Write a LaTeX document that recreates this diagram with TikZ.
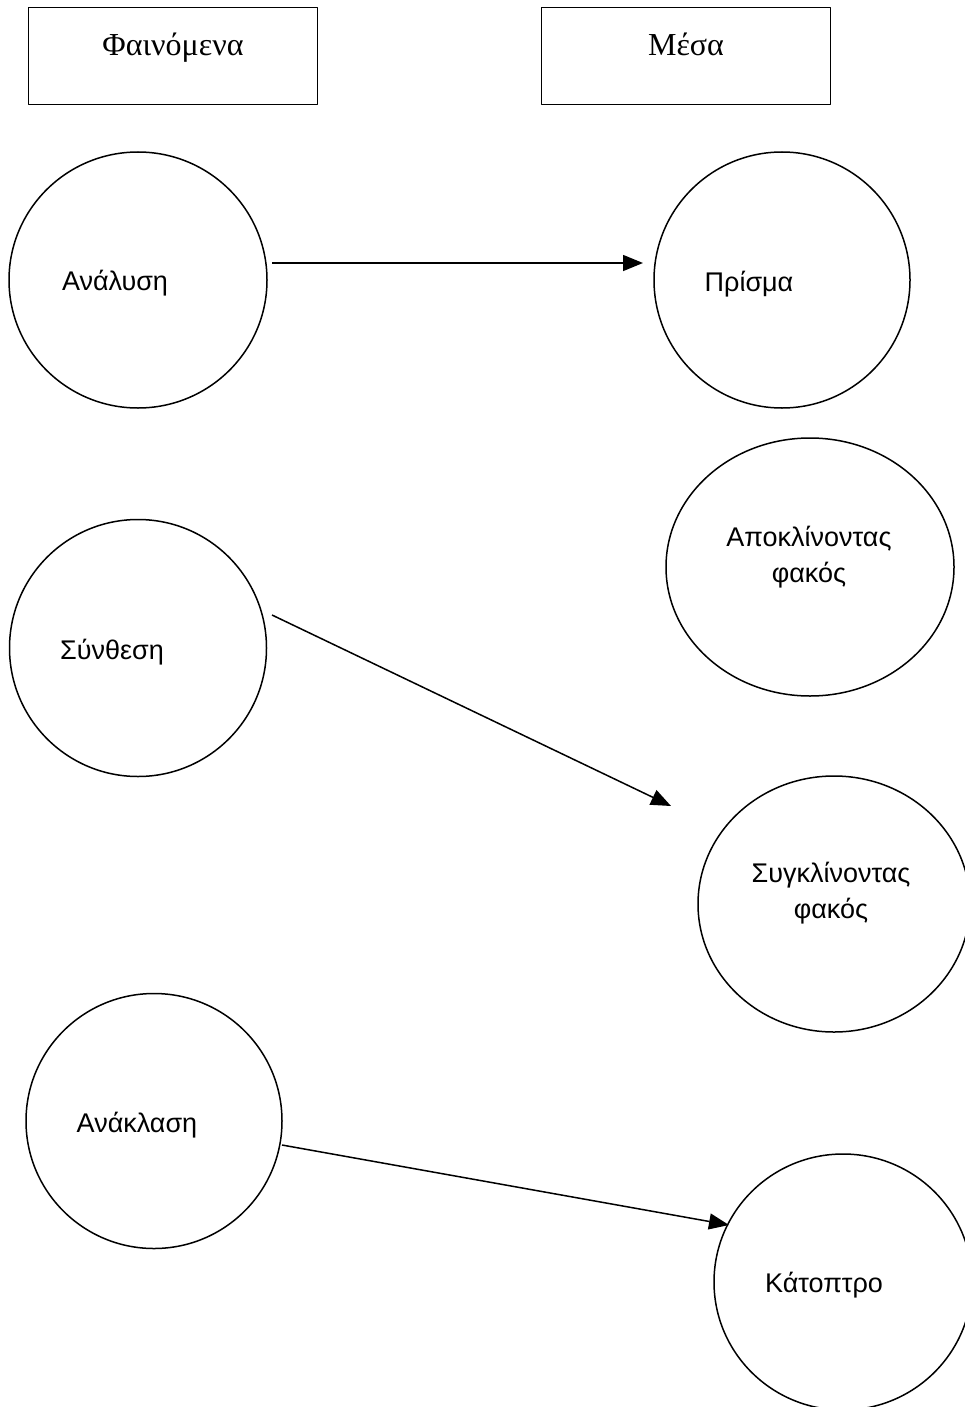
\documentclass[tikz,border=0pt]{standalone}
\usepackage{fontspec}
\setmainfont{Liberation Serif}
\newfontfamily\arialfont{Liberation Sans}
\usetikzlibrary{arrows.meta}
\tikzset{
  bubble/.style={draw, ellipse, line width=1.5pt, inner sep=0pt},
  titlebox/.style={draw, rectangle, line width=1.5pt, minimum width=289pt, minimum height=97pt},
  title/.style={font=\fontsize{32}{37}\selectfont, anchor=base},
  lbl/.style={font=\arialfont\fontsize{27}{36}\selectfont, anchor=base, align=center, inner sep=0pt},
  link/.style={line width=1.5pt, -{Triangle[length=20pt,width=16pt]}}
}
\usetikzlibrary{shapes.geometric}
\begin{document}
\begin{tikzpicture}[x=1pt, y=-1pt, line join=round]
	\useasboundingbox (0,0) rectangle (965,1407);
	\clip (0,0) rectangle (965,1407);
	% titles
	\node[titlebox] (phenbox) at (173,56) {};
	\node[titlebox] (mediabox) at (686,56) {};
	\node[title] (phen) at (173,56) {Φαινόμενα};
	\node[title] (media) at (686,56) {Μέσα};
	% circles
	\foreach \n/\x/\y/\w/\h in {analysis/138/280/258/256, prism/782/280/256/256,
		diverg/810/567/288/258, synth/138/648/257/257, converg/834/904/272/256,
		reflect/154/1121/256/255, mirror/843/1282/258/256}{
		\node[bubble, minimum width=\w pt, minimum height=\h pt] (\n) at (\x,\y) {};}
	% labels
	\foreach \n/\x/\y/\t in {analysisT/115/290/Ανάλυση, prismT/749/291/Πρίσμα,
		synthT/112/659/Σύνθεση, reflectT/137/1132/Ανάκλαση, mirrorT/824/1292/Κάτοπτρο,
		divergT/809/582/{Αποκλίνοντας\\φακός}, convergT/831/918/{Συγκλίνοντας\\φακός}}{
		\node[lbl] (\n) at (\x,\y) {\t};}
	% arrow ends
	\coordinate (a1) at (272,263);
	\coordinate (b1) at (643,263);
	\coordinate (a2) at (272,615);
	\coordinate (b2) at (671,806);
	\coordinate (a3) at (282,1145);
	\coordinate (b3) at (729,1225);
	\draw[link] (a1) -- (b1);
	\draw[link] (a2) -- (b2);
	\draw[link] (a3) -- (b3);
\end{tikzpicture}
\end{document}
